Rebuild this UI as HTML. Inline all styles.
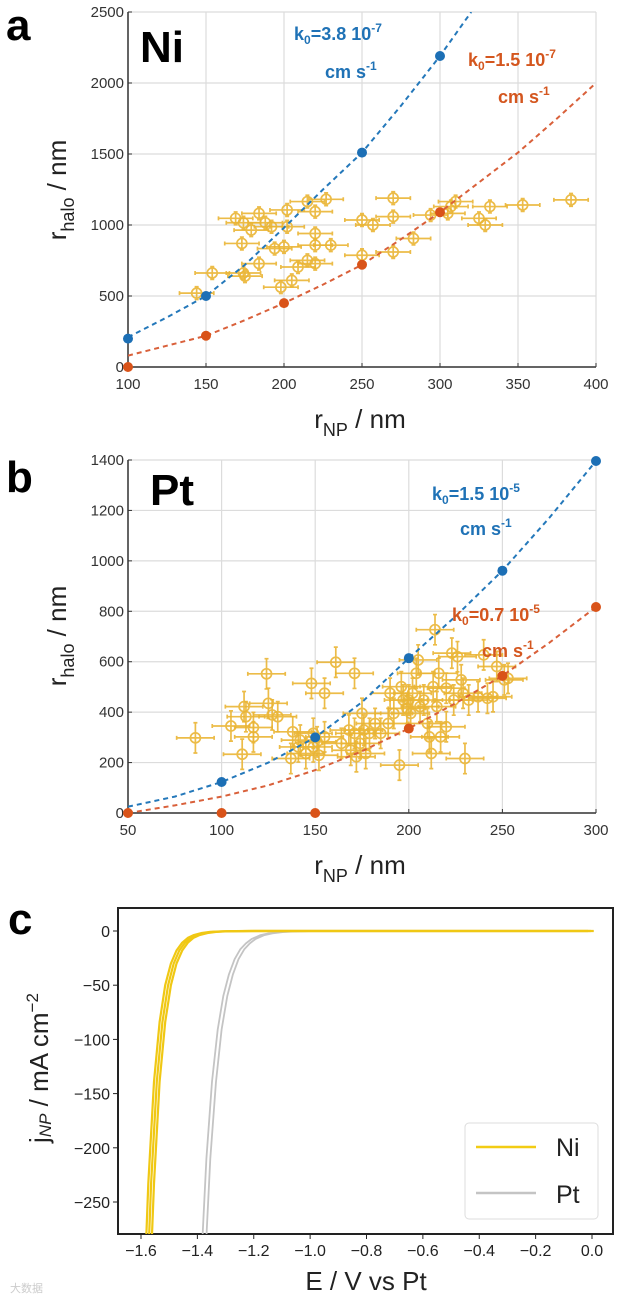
<!DOCTYPE html>
<html><head><meta charset="utf-8">
<style>
html,body{margin:0;padding:0;background:#fff;width:624px;height:1302px;overflow:hidden;}
svg{display:block;font-family:"Liberation Sans",sans-serif;}
.tk{font-size:15px;fill:#333;}
.tkc{font-size:16px;fill:#222;}
</style></head>
<body>
<svg id="fig" width="624" height="1302" viewBox="0 0 624 1302" xmlns="http://www.w3.org/2000/svg">
<defs>
<clipPath id="clipA"><rect x="128" y="12" width="468" height="355"/></clipPath>
<clipPath id="clipB"><rect x="128" y="460" width="468" height="353"/></clipPath>
<clipPath id="clipC"><rect x="118" y="908" width="495" height="326"/></clipPath>
</defs>
<g id="pa"></g>
<g id="pb"></g>
<g id="pc"></g>

<text x="6" y="40" font-size="44" font-weight="bold">a</text>
<text x="140" y="62" font-size="44" font-weight="bold">Ni</text>
<text x="294" y="40" font-size="18" font-weight="bold" fill="#1f72b6">k<tspan font-size="12" dy="4">0</tspan><tspan dy="-4">=3.8 10</tspan><tspan font-size="12" dy="-8">-7</tspan></text>
<text x="325" y="78" font-size="18" font-weight="bold" fill="#1f72b6">cm s<tspan font-size="12" dy="-8">-1</tspan></text>
<text x="468" y="66" font-size="18" font-weight="bold" fill="#d4561e">k<tspan font-size="12" dy="4">0</tspan><tspan dy="-4">=1.5 10</tspan><tspan font-size="12" dy="-8">-7</tspan></text>
<text x="498" y="103" font-size="18" font-weight="bold" fill="#d4561e">cm s<tspan font-size="12" dy="-8">-1</tspan></text>
<text transform="translate(66,190) rotate(-90)" text-anchor="middle" font-size="26" fill="#222">r<tspan font-size="18" dy="8">halo</tspan><tspan dy="-8"> / nm</tspan></text>
<text x="360" y="428" text-anchor="middle" font-size="26" fill="#222">r<tspan font-size="18" dy="8">NP</tspan><tspan dy="-8"> / nm</tspan></text>

<text x="6" y="492" font-size="44" font-weight="bold">b</text>
<text x="150" y="505" font-size="44" font-weight="bold">Pt</text>
<text x="432" y="500" font-size="18" font-weight="bold" fill="#1f72b6">k<tspan font-size="12" dy="4">0</tspan><tspan dy="-4">=1.5 10</tspan><tspan font-size="12" dy="-8">-5</tspan></text>
<text x="460" y="535" font-size="18" font-weight="bold" fill="#1f72b6">cm s<tspan font-size="12" dy="-8">-1</tspan></text>
<text x="452" y="621" font-size="18" font-weight="bold" fill="#d4561e">k<tspan font-size="12" dy="4">0</tspan><tspan dy="-4">=0.7 10</tspan><tspan font-size="12" dy="-8">-5</tspan></text>
<text x="482" y="657" font-size="18" font-weight="bold" fill="#d4561e">cm s<tspan font-size="12" dy="-8">-1</tspan></text>
<text transform="translate(66,636) rotate(-90)" text-anchor="middle" font-size="26" fill="#222">r<tspan font-size="18" dy="8">halo</tspan><tspan dy="-8"> / nm</tspan></text>
<text x="360" y="874" text-anchor="middle" font-size="26" fill="#222">r<tspan font-size="18" dy="8">NP</tspan><tspan dy="-8"> / nm</tspan></text>

<text x="8" y="934" font-size="44" font-weight="bold">c</text>
<text transform="translate(48,1068) rotate(-90)" text-anchor="middle" font-size="26" fill="#222">j<tspan font-size="17" font-style="italic" dy="3">NP</tspan><tspan dy="-3"> / mA cm</tspan><tspan font-size="17" dy="-10">−2</tspan></text>
<text x="366" y="1290" text-anchor="middle" font-size="26" fill="#222">E / V vs Pt</text>
<g>
<rect x="465" y="1123" width="133" height="96" rx="4" fill="#fff" stroke="#ddd"/>
<line x1="476" y1="1147" x2="536" y2="1147" stroke="#f2cc14" stroke-width="2.5"/>
<text x="556" y="1156" font-size="25" fill="#222">Ni</text>
<line x1="476" y1="1193" x2="536" y2="1193" stroke="#c4c4c4" stroke-width="2.5"/>
<text x="556" y="1203" font-size="25" fill="#222">Pt</text>
</g>
<text x="10" y="1292" font-size="11" fill="#ccc" font-family="'Liberation Sans','Noto Sans CJK SC',sans-serif">大数据</text>
</svg>
<script>
// ---------- Panel a data (Ni) ----------
const niX = [144,154,174,175,169,174,179,184,188,192,202,173,184,194,200,202,198,205,209,215,220,215,220,220,220,230,227,250,257,250,270,270,270,283,294,305,310,307,325,329,332,353,384];
const niY = [520,662,662,640,1047,1016,964,1082,1016,988,988,870,728,834,846,1106,562,610,704,751,728,1165,1094,940,858,858,1181,1035,1000,787,1189,1059,810,905,1070,1082,1165,1130,1047,1000,1130,1141,1177];
const niBlueDotX = [100,150,250,300];
const niBlueDotY = [200,500,1510,2190];
const niRedDotX = [100,150,200,250,300];
const niRedDotY = [0,220,450,720,1090];
const niBlueCurveX = [100,125,150,175,200,225,250,275,300,320];
const niBlueCurveY = [210,350,500,720,980,1250,1510,1840,2190,2500];
const niRedCurveX = [100,125,150,175,200,225,250,275,300,325,350,375,400];
const niRedCurveY = [80,150,220,330,450,580,720,900,1090,1300,1510,1750,2000];
const aXTicks = [100,150,200,250,300,350,400];
const aYTicks = [0,500,1000,1500,2000,2500];

// ---------- Panel b data (Pt) ----------
const ptX = [86,105,111,112,113,117,117,124,125,127,130,137,138,141,142,145,148,149,149,151,152,155,155,161,164,168,169,171,171,172,174,175,176,177,179,182,185,189,190,192,195,196,197,199,200,201,202,204,205,206,208,210,211,212,213,214,215,216,217,220,220,223,224,226,228,229,230,232,237,240,242,245,247,251,253];
const ptY = [298,345,233,422,382,339,302,552,435,389,382,216,322,262,289,236,514,316,262,282,229,475,302,598,276,329,249,554,316,223,276,395,329,236,316,355,316,355,475,395,190,501,448,415,448,395,475,554,607,422,448,355,302,236,501,727,422,554,302,495,342,634,448,620,528,475,216,448,461,627,455,461,581,528,534];
const ptBlueDotX = [100,150,200,250,300];
const ptBlueDotY = [123,300,614,961,1396];
const ptRedDotX = [50,100,150,200,250,300];
const ptRedDotY = [0,0,0,335,544,817];
const ptBlueCurveX = [50,75,100,125,150,175,200,225,250,275,300];
const ptBlueCurveY = [25,65,123,200,300,440,614,780,961,1170,1396];
const ptRedCurveX = [50,75,100,125,150,175,200,225,250,275,300];
const ptRedCurveY = [0,30,65,110,170,245,335,435,544,675,817];
const bXTicks = [50,100,150,200,250,300];
const bYTicks = [0,200,400,600,800,1000,1200,1400];

// ---------- Panel c data ----------
const niE = [-1.57,-1.56,-1.54,-1.52,-1.50,-1.48,-1.46,-1.44,-1.42,-1.40,-1.37,-1.34,-1.30,-1.25,-1.20,-1.10,-1.00,0.00];
const niJ = [-301,-233,-139,-84,-50,-30,-18,-10.8,-6.4,-3.9,-1.8,-0.8,-0.3,-0.1,0,0,0,0];
const niShift = [-0.014,-0.004,0.006];
const ptE = [-1.375,-1.36,-1.34,-1.32,-1.30,-1.28,-1.26,-1.24,-1.22,-1.20,-1.17,-1.14,-1.10,-1.05,-1.00,0.00];
const ptJ = [-288,-210,-139,-91,-60,-40,-26,-17,-11.4,-7.5,-4,-2.2,-0.9,-0.3,-0.1,0];
const ptShift = [-0.008,0.006];
const cXTicks = [-1.6,-1.4,-1.2,-1.0,-0.8,-0.6,-0.4,-0.2,0.0];
const cYTicks = [0,-50,-100,-150,-200,-250];

const NS = 'http://www.w3.org/2000/svg';
function mk(parent, tag, attrs){
  const e = document.createElementNS(NS, tag);
  for (const k in attrs) e.setAttribute(k, attrs[k]);
  parent.appendChild(e);
  return e;
}
function scatterPanel(g, clip, x0, x1, y0, y1, px0, px1, py0, py1, xt, yt, sx, sy, ex, ey, bdx, bdy, rdx, rdy, bcx, bcy, rcx, rcy, tag){
  const X = v => px0 + (v - x0) / (x1 - x0) * (px1 - px0);
  const Y = v => py0 - (v - y0) / (y1 - y0) * (py0 - py1);
  xt.forEach(t => {
    const l = mk(g,'line',{x1:X(t),x2:X(t),y1:py1,y2:py0,stroke:'#dcdcdc','stroke-width':1.2});
    
    
    const tx = mk(g,'text',{x:X(t),y:py0+22,'text-anchor':'middle',class:'tk'});
    tx.textContent = t;
    
    
    mk(g,'line',{x1:X(t),x2:X(t),y1:py0,y2:py0-4,stroke:'#333'});
  });
  yt.forEach(t => {
    const l = mk(g,'line',{x1:px0,x2:px1,y1:Y(t),y2:Y(t),stroke:'#dcdcdc','stroke-width':1.2});
    
    
    const tx = mk(g,'text',{x:px0-4,y:Y(t)+5,'text-anchor':'end',class:'tk'});
    tx.textContent = t;
    
    
    mk(g,'line',{x1:px0,x2:px0+4,y1:Y(t),y2:Y(t),stroke:'#333'});
  });
  const ax = mk(g,'path',{d:`M${px0} ${py1}V${py0}H${px1}`,fill:'none',stroke:'#333','stroke-width':1.5});
  
  
  const dg = mk(g,'g',{'clip-path':`url(#${clip})`});
  
  
  sx.forEach((v,i) => {
    const cx = X(v), cy = Y(sy[i]);
    const hx = Math.abs(X(v+ex)-cx), hy = Math.abs(Y(sy[i]+ey)-cy);
    const p = mk(dg,'g',{stroke:'#eab535','stroke-width':1.7,fill:'none',opacity:0.9});
    
    
    mk(p,'path',{d:`M${cx-hx} ${cy}H${cx+hx}M${cx} ${cy-hy}V${cy+hy}M${cx-hx} ${cy-2}v4M${cx+hx} ${cy-2}v4M${cx-2} ${cy-hy}h4M${cx-2} ${cy+hy}h4`});
    mk(p,'circle',{cx:cx,cy:cy,r:5});
  });
  const curve = (xs, ys, col, name) => {
    const d = xs.map((v,i)=>(i?'L':'M')+X(v).toFixed(1)+' '+Y(ys[i]).toFixed(1)).join('');
    const c = mk(dg,'path',{d:d,fill:'none',stroke:col,'stroke-width':2,'stroke-dasharray':'5 4'});
    
    
  };
  curve(bcx, bcy, '#2478ba', tag+'-blue-model-curve');
  curve(rcx, rcy, '#d9603a', tag+'-red-model-curve');
  const dots = (xs, ys, col, name) => xs.forEach((v,i)=>{
    const c = mk(g,'circle',{cx:X(v),cy:Y(ys[i]),r:5,fill:col});
    
    
  });
  dots(bdx, bdy, '#1c6fb5', tag+'-blue-model-point');
  dots(rdx, rdy, '#d95319', tag+'-red-model-point');
}
scatterPanel(document.getElementById('pa'),'clipA',100,400,0,2500,128,596,367,12,aXTicks,aYTicks,niX,niY,11,45,niBlueDotX,niBlueDotY,niRedDotX,niRedDotY,niBlueCurveX,niBlueCurveY,niRedCurveX,niRedCurveY,'ni');
scatterPanel(document.getElementById('pb'),'clipB',50,300,0,1400,128,596,813,460,bXTicks,bYTicks,ptX,ptY,10,60,ptBlueDotX,ptBlueDotY,ptRedDotX,ptRedDotY,ptBlueCurveX,ptBlueCurveY,ptRedCurveX,ptRedCurveY,'pt');

(function(){
  const g = document.getElementById('pc');
  const X = v => 141 + (v + 1.6) / 1.6 * (592 - 141);
  const Y = v => 931 + (v / -250) * (1202 - 931);
  const fr = mk(g,'rect',{x:118,y:908,width:495,height:326,fill:'none',stroke:'#222','stroke-width':2});
  
  
  cXTicks.forEach(t => {
    mk(g,'line',{x1:X(t),x2:X(t),y1:1234,y2:1239,stroke:'#222'});
    const tx = mk(g,'text',{x:X(t),y:1256,'text-anchor':'middle',class:'tkc'});
    tx.textContent = (t<0?'−':'') + Math.abs(t).toFixed(1);
    
    
  });
  cYTicks.forEach(t => {
    mk(g,'line',{x1:113,x2:118,y1:Y(t),y2:Y(t),stroke:'#222'});
    const tx = mk(g,'text',{x:110,y:Y(t)+6,'text-anchor':'end',class:'tkc'});
    tx.textContent = (t<0?'−':'') + Math.abs(t);
    
    
  });
  const dg = mk(g,'g',{'clip-path':'url(#clipC)'});
  const line = (es, js, sh, col, w, name) => {
    const d = es.map((e,i)=>(i?'L':'M')+X(e+sh).toFixed(1)+' '+Y(js[i]).toFixed(1)).join('');
    const p = mk(dg,'path',{d:d,fill:'none',stroke:col,'stroke-width':w,'stroke-linejoin':'round'});
    
    
  };
  ptShift.forEach(s => line(ptE, ptJ, s, '#c4c4c4', 1.8, 'pt-curve'));
  niShift.forEach(s => line(niE, niJ, s, '#f0c814', 2.2, 'ni-curve'));
})();
</script>
</body></html>
